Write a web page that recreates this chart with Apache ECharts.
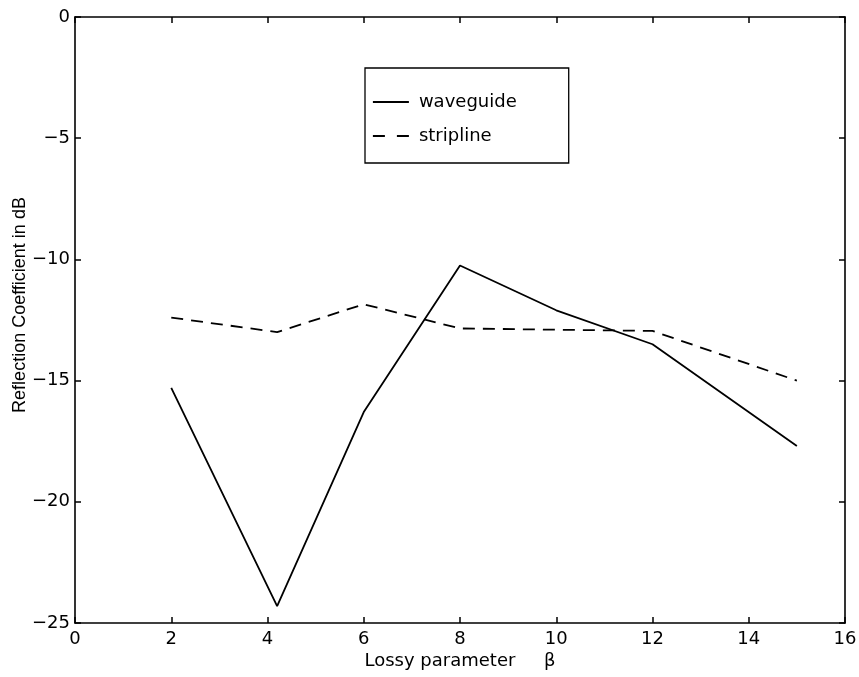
<!DOCTYPE html>
<html>
<head>
<meta charset="utf-8">
<script src="https://cdn.jsdelivr.net/npm/echarts@6/dist/echarts.min.js"></script>
<style>
html,body{margin:0;padding:0;background:#fff;}
#chart{width:859px;height:677px;}
</style>
</head>
<body>
<div id="chart"></div>
<script>
const beta = [2, 4.2, 6, 8, 10, 12, 15];
const waveguide = [-15.3, -24.3, -16.3, -10.25, -12.1, -13.5, -17.7];
const stripline = [-12.4, -13.0, -11.85, -12.85, -12.9, -12.95, -15.0];
const xTicks = [0, 2, 4, 6, 8, 10, 12, 14, 16];
const yTicks = [0, -5, -10, -15, -20, -25];

const wide = '"DejaVu Sans", Verdana, sans-serif';
const narrow = '"Liberation Sans", Arial, Helvetica, sans-serif';
const fmt = v => String(v).replace('-', '\u2212');
const dash = [12, 8];

const chart = echarts.init(document.getElementById('chart'));
const pairs = (xs, ys) => xs.map((x, i) => [x, ys[i]]);

const tickStyle = { inside: true, length: 6, lineStyle: { color: '#000', width: 1.5 } };
const lineStyleAxis = { onZero: false, lineStyle: { color: '#000', width: 1.6 } };

chart.setOption({
  animation: false,
  backgroundColor: '#fff',
  grid: { left: 75, right: 14, top: 17, bottom: 54, containLabel: false, outerBoundsMode: 'none' },
  legend: {
    orient: 'vertical',
    left: 365, top: 68,
    padding: [25, 52, 18, 7],
    itemGap: 16,
    itemWidth: 36, itemHeight: 18,
    borderColor: '#000', borderWidth: 1.3,
    backgroundColor: '#fff',
    itemStyle: { color: 'transparent', borderColor: 'transparent', borderWidth: 0, opacity: 0 },
    textStyle: { fontFamily: wide, fontSize: 18, color: '#000', padding: [0, 0, 0, 5] },
    data: [
      { name: 'waveguide', lineStyle: { color: '#000', width: 1.8, type: 'solid' } },
      { name: 'stripline', lineStyle: { color: '#000', width: 1.8, type: [12, 12] } }
    ]
  },
  xAxis: [
    {
      type: 'value', min: 0, max: 16, interval: 2,
      name: 'Lossy parameter     \u03b2', nameLocation: 'middle', nameGap: 29,
      nameMoveOverlap: false,
      nameTextStyle: { fontFamily: wide, fontSize: 18, color: '#000' },
      axisLine: lineStyleAxis,
      axisTick: tickStyle,
      axisLabel: { fontFamily: wide, fontSize: 18, color: '#000', margin: 7, formatter: fmt },
      splitLine: { show: false }
    },
    {
      type: 'value', min: 0, max: 16, interval: 2, position: 'top',
      axisLine: lineStyleAxis,
      axisTick: tickStyle,
      axisLabel: { show: false }, splitLine: { show: false }
    }
  ],
  yAxis: [
    {
      type: 'value', min: -25, max: 0, interval: 5,
      name: 'Reflection Coefficient in dB', nameLocation: 'middle', nameGap: 46,
      nameMoveOverlap: false,
      nameTextStyle: { fontFamily: narrow, fontSize: 18, color: '#000', padding: [0, 0, 0, 30] },
      axisLine: lineStyleAxis,
      axisTick: tickStyle,
      axisLabel: { fontFamily: wide, fontSize: 18, color: '#000', margin: 5, formatter: fmt },
      splitLine: { show: false }
    },
    {
      type: 'value', min: -25, max: 0, interval: 5, position: 'right',
      axisLine: lineStyleAxis,
      axisTick: tickStyle,
      axisLabel: { show: false }, splitLine: { show: false }
    }
  ],
  series: [
    {
      name: 'waveguide', type: 'line', data: pairs(beta, waveguide),
      xAxisIndex: 0, yAxisIndex: 0,
      symbol: 'none', showSymbol: false, color: '#000',
      lineStyle: { color: '#000', width: 1.8, type: 'solid' }
    },
    {
      name: 'stripline', type: 'line', data: pairs(beta, stripline),
      xAxisIndex: 0, yAxisIndex: 0,
      symbol: 'none', showSymbol: false, color: '#000',
      lineStyle: { color: '#000', width: 1.8, type: dash }
    }
  ]
});
</script>
</body>
</html>
